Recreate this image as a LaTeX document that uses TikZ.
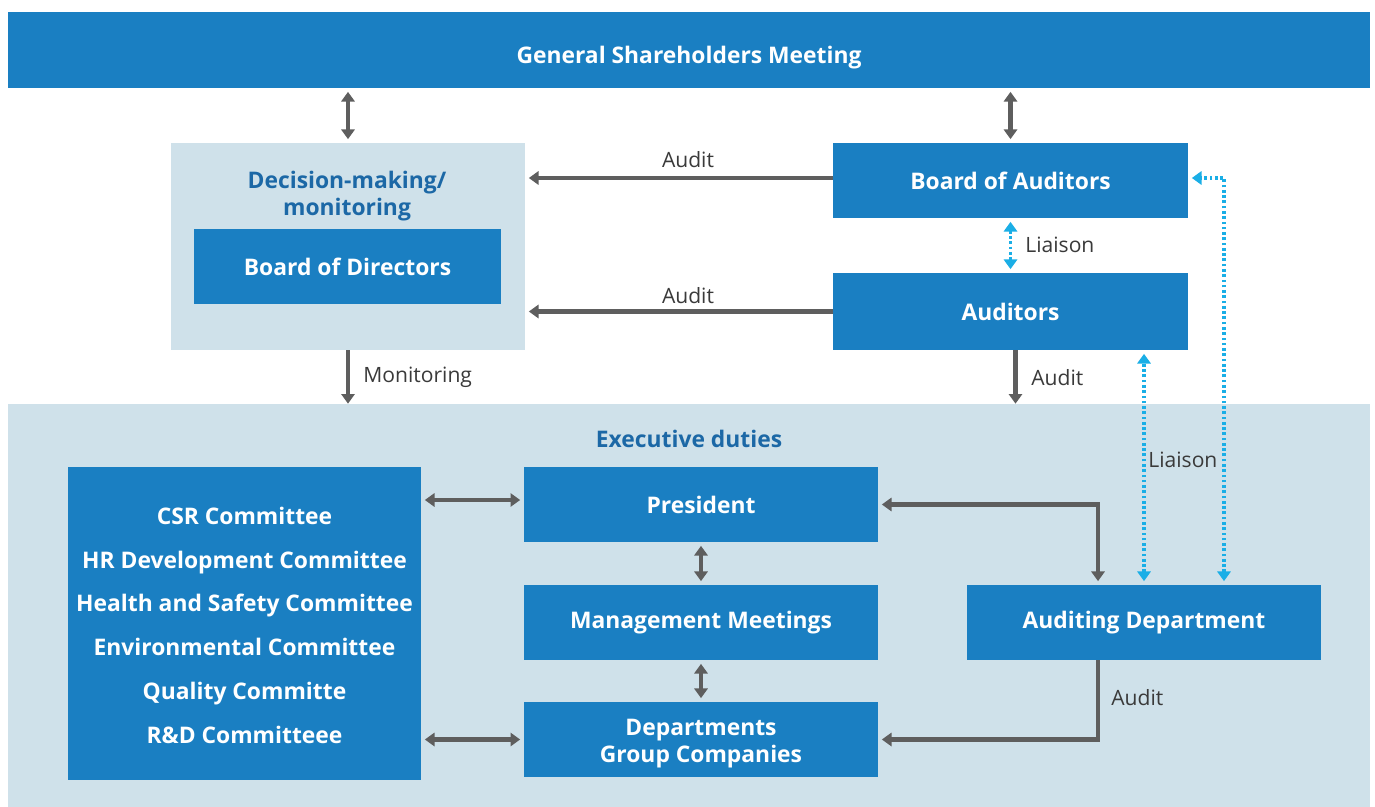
\documentclass[tikz,border=0pt]{standalone}
\usepackage{fontspec}
\setmainfont{Open Sans}
\usetikzlibrary{arrows.meta,calc}
\definecolor{dblue}{HTML}{1A7FC2}
\definecolor{lblue}{HTML}{CFE1EA}
\definecolor{tblue}{HTML}{1C68A6}
\definecolor{agray}{HTML}{5E5E5E}
\definecolor{lgray}{HTML}{3A3A3A}
\definecolor{cyanl}{HTML}{1AAEE6}
\tikzset{
  bluebox/.style={fill=dblue,draw=none,text=white,font=\bfseries\fontsize{13}{15.3}\selectfont,align=center,inner sep=0pt},
  bgbox/.style={fill=lblue,draw=none,inner sep=0pt},
  ttl/.style={text=tblue,font=\bfseries\fontsize{13}{15.3}\selectfont,align=center,inner sep=0pt},
  lbl/.style={text=lgray,font=\fontsize{12}{14}\selectfont,inner sep=0pt,anchor=west},
  garr/.style={draw=agray,line width=2.3pt,-{Triangle[width=7.5pt,length=5.5pt]}},
  garrb/.style={draw=agray,line width=2.3pt,{Triangle[width=7.5pt,length=5.5pt]}-{Triangle[width=7.5pt,length=5.5pt]}},
  carrb/.style={draw=cyanl,line width=2.2pt,dash pattern=on 1.5pt off 1.5pt,{Triangle[width=7.5pt,length=5.5pt]}-{Triangle[width=7.5pt,length=5.5pt]}},
}
\begin{document}
\begin{tikzpicture}[x=0.02cm,y=-0.02cm]
\useasboundingbox[fill=white] (0,0) rectangle (1375,807);
% backgrounds
\node[bgbox,minimum width=27.24cm,minimum height=8.06cm] (exec) at (689,605.5) {};
\node[bluebox,minimum width=27.24cm,minimum height=1.52cm,text height=15.5pt,text depth=0pt] (gsm) at (689,50) {General Shareholders Meeting};
\node[bgbox,minimum width=7.08cm,minimum height=4.14cm] (dec) at (348,246.5) {};
\node[ttl] (dectitle) at (347,196) {Decision-making/\\monitoring};
\node[bluebox,minimum width=6.14cm,minimum height=1.5cm] (bod) at (347.5,266.5) {Board of Directors};
\node[bluebox,minimum width=7.1cm,minimum height=1.5cm] (boa) at (1010.5,180.5) {Board of Auditors};
\node[bluebox,minimum width=7.1cm,minimum height=1.54cm] (aud) at (1010.5,311.5) {Auditors};
\node[ttl] (exectitle) at (689,439) {Executive duties};
\node[bluebox,minimum width=7.06cm,minimum height=6.26cm,font=\bfseries\fontsize{13}{25}\selectfont] (com) at (244.5,623.5) {\rule{0pt}{12pt}CSR Committee\\HR Development Committee\\Health and Safety Committee\\Environmental Committee\\Quality Committe\\R\&D Committeee};
\node[bluebox,minimum width=7.08cm,minimum height=1.5cm] (pres) at (701,504.5) {President};
\node[bluebox,minimum width=7.08cm,minimum height=1.5cm] (mm) at (701,622.5) {Management Meetings};
\node[bluebox,minimum width=7.08cm,minimum height=1.5cm] (dep) at (701,739.5) {\rule{0pt}{13.5pt}Departments\\Group Companies};
\node[bluebox,minimum width=7.08cm,minimum height=1.5cm] (ad) at (1144,622.5) {Auditing Department};
% gray connectors
\draw[garrb,shorten <=2pt,shorten >=2pt] (gsm.south -| dec.north) -- (dec.north);
\draw[garrb,shorten <=2pt,shorten >=2pt] (gsm.south -| boa.north) -- (boa.north);
\draw[garr,shorten >=2pt] ([yshift=0.05cm]boa.west) -- ([yshift=0.05cm]boa.west -| dec.east);
\draw[garr,shorten >=2pt] (aud.west) -- (aud.west -| dec.east);
\draw[garr] (dec.south) -- (dec.south |- exec.north);
\draw[garr] ([xshift=0.1cm]aud.south) -- ([xshift=0.1cm]aud.south |- exec.north);
\draw[garrb,shorten <=2pt,shorten >=2pt] ([yshift=0.09cm]pres.west) -- ([yshift=0.09cm]pres.west -| com.east);
\draw[garrb,shorten <=2pt,shorten >=2pt] (dep.west) -- (dep.west -| com.east);
\draw[garrb,shorten <=2pt,shorten >=2pt] (pres.south) -- (mm.north);
\draw[garrb,shorten <=2pt,shorten >=2pt] (mm.south) -- (dep.north);
\draw[garrb,shorten <=2pt,shorten >=2pt] ([xshift=-0.92cm]ad.north) |- (pres.east);
\draw[garr,shorten >=2pt] ([xshift=-0.92cm]ad.south) |- (dep.east);
% cyan liaison
\draw[carrb,shorten <=2pt,shorten >=2pt] (boa.south) -- (aud.north);
\draw[carrb,shorten <=2pt,shorten >=2pt] (ad.north) -- (ad.north |- aud.south);
\draw[carrb,shorten <=2pt,shorten >=2pt] ([xshift=1.6cm]ad.north) |- ([yshift=0.05cm]boa.east);
% labels
\node[lbl,anchor=center] (l1) at (688,160) {Audit};
\node[lbl,anchor=center] (l2) at (688,296) {Audit};
\node[lbl] (l3) at (363,377) {Monitoring};
\node[lbl] (l4) at (1031,378) {Audit};
\node[lbl] (l5) at (1025,245) {Liaison};
\node[lbl] (l6) at (1148,460) {Liaison};
\node[lbl] (l7) at (1111,698) {Audit};
\end{tikzpicture}
\end{document}
